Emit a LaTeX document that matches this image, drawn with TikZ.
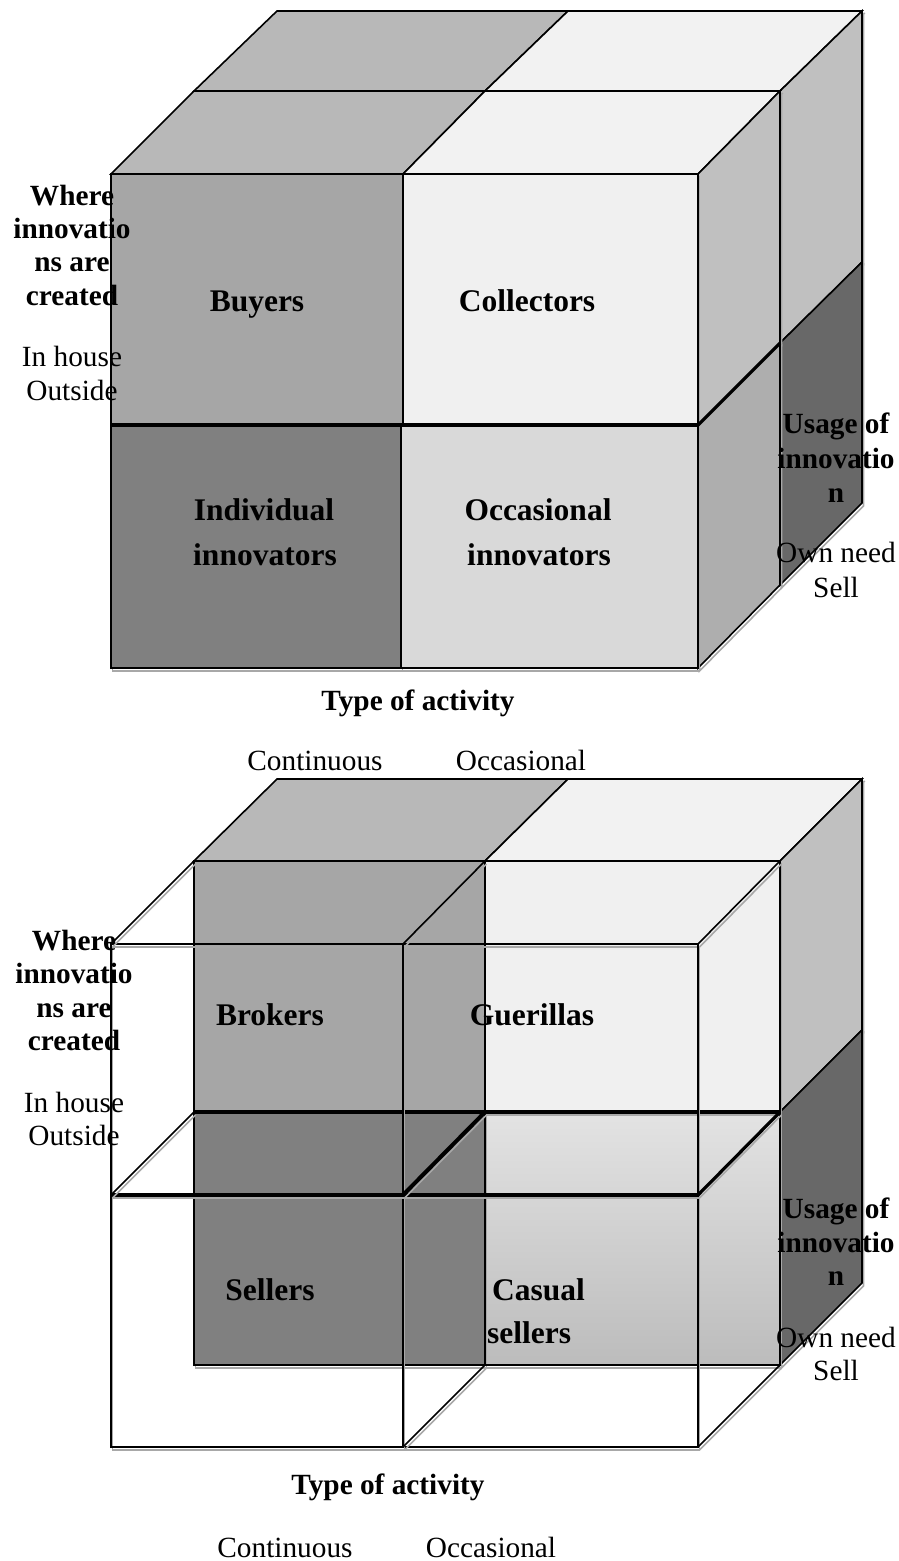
\documentclass[tikz,border=0pt]{standalone}
\usepackage{fontspec}
\setmainfont{Liberation Serif}
\definecolor{cA}{HTML}{A6A6A6}
\definecolor{cTopL}{HTML}{B8B8B8}
\definecolor{cTopR}{HTML}{F2F2F2}
\definecolor{cB}{HTML}{F0F0F0}
\definecolor{cC}{HTML}{808080}
\definecolor{cD}{HTML}{D9D9D9}
\definecolor{cSideU}{HTML}{C0C0C0}
\definecolor{cSideL}{HTML}{AEAEAE}
\definecolor{cDark}{HTML}{686868}
\definecolor{cShadow}{HTML}{A8A8A8}
\definecolor{cGradT}{HTML}{E3E3E3}
\definecolor{cGradB}{HTML}{BCBCBC}
\begin{document}
\begin{tikzpicture}[x=1pt,y=-1pt,
  edge/.style={draw=black, line width=1.6pt, line join=miter,
    preaction={draw=cShadow, line width=1.6pt, transform canvas={xshift=1.5pt,yshift=-3pt}}},
  face/.style={edge},
  heavy/.style={line width=3.2pt},
  medium/.style={line width=2.5pt},
  side/.style={font=\fontsize{29.3}{34}\selectfont, inner sep=0pt, anchor=base},
  sideb/.style={side, font=\fontsize{29.3}{34}\selectfont\bfseries},
  cell/.style={font=\fontsize{31.5}{36}\selectfont\bfseries, inner sep=0pt, anchor=base}]
\useasboundingbox (0,0) rectangle (899,1561);

% ================= TOP CUBE =================
% back half
\path[face, fill=cTopL] (194,91) -- (485,91) -- (568,11) -- (277,11) -- cycle;
\path[face, fill=cTopR] (485,91) -- (780,91) -- (862,11) -- (568,11) -- cycle;
\path[face, fill=cSideU] (780,91) -- (862,11) -- (862,262) -- (780,343) -- cycle;
\path[face, fill=cDark] (780,343) -- (862,262) -- (862,503) -- (780,585) -- cycle;
% front half
\path[face, fill=cTopL] (111,174) -- (403,174) -- (485,91) -- (194,91) -- cycle;
\path[face, fill=cTopR] (403,174) -- (698,174) -- (780,91) -- (485,91) -- cycle;
\path[face, fill=cSideU] (698,174) -- (780,91) -- (780,343) -- (698,425) -- cycle;
\path[face, fill=cSideL] (698,425) -- (780,343) -- (780,585) -- (698,668) -- cycle;
\path[face, fill=cA] (111,174) rectangle (403,425);
\path[face, fill=cB] (403,174) rectangle (698,425);
\path[face, fill=cC, medium] (111,425) rectangle (401,668);
\path[face, fill=cD] (401,425) rectangle (698,668);
\draw[heavy] (111,425) -- (698,425);
\draw[heavy] (698,425) -- (780,343);

% labels top cube
\node[cell] (buyers) at (257,311) {Buyers};
\node[cell] (collectors) at (527,311) {Collectors};
\node[cell] (indiv1) at (264,520) {Individual};
\node[cell] (indiv2) at (265,565) {innovators};
\node[cell] (occ1) at (538,520) {Occasional};
\node[cell] (occ2) at (539,565) {innovators};

\node[sideb] (w1) at (72,205) {Where};
\node[sideb] (w2) at (72,238) {innovatio};
\node[sideb] (w3) at (72,271) {ns are};
\node[sideb] (w4) at (72,305) {created};
\node[side] (inh1) at (72,366) {In house};
\node[side] (out1) at (72,400) {Outside};

\node[sideb] (u1) at (836,433) {Usage of};
\node[sideb] (u2) at (836,468) {innovatio};
\node[sideb] (u3) at (836,502) {n};
\node[side] (own1) at (836,562) {Own need};
\node[side] (sell1) at (836,597) {Sell};

\node[sideb] (type1) at (418,710) {Type of activity};
\node[side] (cont1) at (315,770) {Continuous};
\node[side] (occa1) at (521,770) {Occasional};

% ================= BOTTOM CUBE =================
% back layer
\path[face, fill=cTopL] (194,861) -- (485,861) -- (568,779) -- (277,779) -- cycle;
\path[face, fill=cTopR] (485,861) -- (780,861) -- (862,779) -- (568,779) -- cycle;
\path[face, fill=cSideU] (780,861) -- (862,779) -- (862,1030) -- (780,1112) -- cycle;
\path[face, fill=cDark] (780,1112) -- (862,1030) -- (862,1283) -- (780,1365) -- cycle;
\path[face, fill=cA] (194,861) rectangle (485,1112);
\path[face, fill=cB] (485,861) rectangle (780,1112);
\path[face, fill=cC] (194,1112) rectangle (485,1365);
\fill[top color=cGradT, bottom color=cGradB] (485,1112) rectangle (780,1365);
\path[face] (485,1112) rectangle (780,1365);
\draw[heavy] (194,1112) -- (780,1112);

% front layer (outline only)
\path[edge] (111,944) rectangle (698,1447);
\path[edge] (403,944) -- (403,1447);
\path[edge, heavy] (111,1195) -- (698,1195);
\path[edge] (111,944) -- (194,861) (403,944) -- (485,861) (698,944) -- (780,861);
\path[edge] (111,1195) -- (194,1112);
\path[edge, heavy] (698,1195) -- (780,1112);
\path[edge, line width=4pt] (403,1195) -- (485,1112);
\path[edge] (403,1447) -- (485,1365) (698,1447) -- (780,1365);

% labels bottom cube
\node[cell] (brokers) at (270,1025) {Brokers};
\node[cell] (guer) at (532,1025) {Guerillas};
\node[cell] (sellers) at (270,1300) {Sellers};
\node[cell, anchor=base west] (cas1) at (492,1300) {Casual};
\node[cell, anchor=base west] (cas2) at (487,1343) {sellers};

\node[sideb] (w5) at (74,950) {Where};
\node[sideb] (w6) at (74,983) {innovatio};
\node[sideb] (w7) at (74,1017) {ns are};
\node[sideb] (w8) at (74,1050) {created};
\node[side] (inh2) at (74,1112) {In house};
\node[side] (out2) at (74,1145) {Outside};

\node[sideb] (u4) at (836,1218) {Usage of};
\node[sideb] (u5) at (836,1252) {innovatio};
\node[sideb] (u6) at (836,1285) {n};
\node[side] (own2) at (836,1347) {Own need};
\node[side] (sell2) at (836,1380) {Sell};

\node[sideb] (type2) at (388,1494) {Type of activity};
\node[side] (cont2) at (285,1557) {Continuous};
\node[side] (occa2) at (491,1557) {Occasional};
\end{tikzpicture}
\end{document}
